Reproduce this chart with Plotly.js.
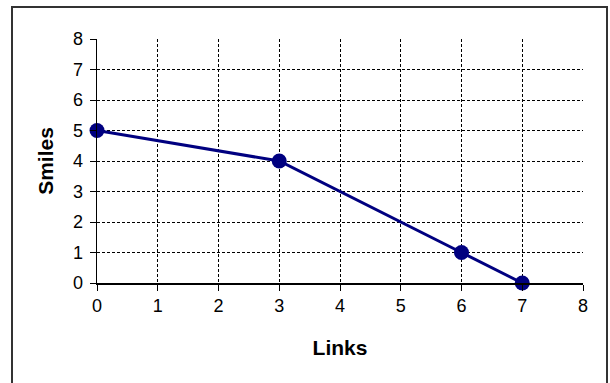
<!DOCTYPE html>
<html><head><meta charset="utf-8">
<script src="https://cdn.plot.ly/plotly-3.0.1.min.js"></script>
<style>
html,body{margin:0;padding:0;background:#fff;}
#wrap{position:relative;width:610px;height:383px;overflow:hidden;}
#chart{position:absolute;left:0;top:0;width:610px;height:383px;}
#frame{position:absolute;left:11px;top:6px;width:593px;height:400px;border:2px solid #333;pointer-events:none;}
</style></head>
<body><div id="wrap"><div id="chart"></div><div id="frame"></div></div>
<script>
const links = [0, 3, 6, 7];
const smiles = [5, 4, 1, 0];
const xRange = [0, 8];
const yRange = [0, 8];

Plotly.newPlot('chart', [{
  x: links, y: smiles, type: 'scatter', mode: 'lines+markers',
  line: {color: '#000080', width: 3},
  marker: {color: '#000080', size: 15},
  cliponaxis: false, hoverinfo: 'none'
}], {
  width: 610, height: 383,
  font: {family: 'Liberation Sans', size: 18, color: '#000'},
  margin: {l: 97, r: 27, t: 39, b: 100},
  paper_bgcolor: 'rgba(0,0,0,0)', plot_bgcolor: '#fff',
  showlegend: false,
  xaxis: {
    range: xRange, tickmode: 'linear', tick0: 0, dtick: 1,
    showgrid: true, gridcolor: '#000', gridwidth: 1, griddash: '3px,2px',
    showline: true, linecolor: '#000', linewidth: 1.5,
    ticks: 'outside', ticklen: 6, tickcolor: '#000', tickwidth: 1,
    zeroline: false, tickfont: {size: 18, color: '#000'},
    title: {text: '<b>Links</b>', font: {size: 21}, standoff: 25},
    fixedrange: true, automargin: false
  },
  yaxis: {
    range: yRange, tickmode: 'linear', tick0: 0, dtick: 1,
    showgrid: true, gridcolor: '#000', gridwidth: 1, griddash: '3px,2px',
    showline: true, linecolor: '#000', linewidth: 1.5,
    ticks: 'outside', ticklen: 6, tickcolor: '#000', tickwidth: 1,
    zeroline: false, tickfont: {size: 18, color: '#000'}, ticklabelstandoff: 3,
    title: {text: '<b>Smiles</b>', font: {size: 21}, standoff: 13},
    fixedrange: true, automargin: false
  }
}, {displayModeBar: false, staticPlot: true});
</script></body></html>
